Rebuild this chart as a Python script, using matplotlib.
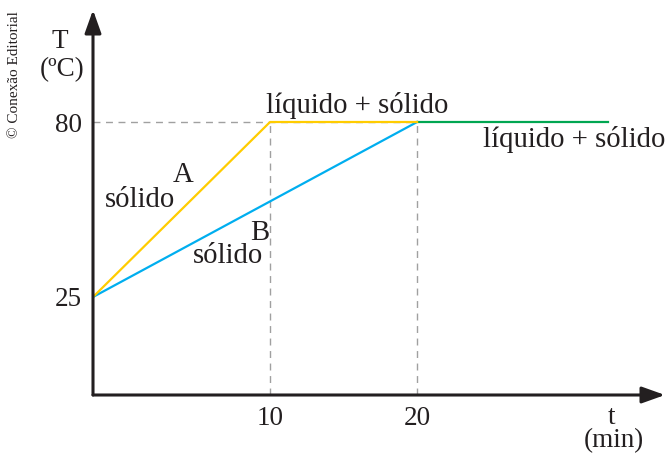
import numpy as np
import matplotlib
matplotlib.use('Agg')
import matplotlib.pyplot as plt
from matplotlib.patches import FancyArrowPatch

# Dados do grafico (tempo em min, temperatura em ºC)
tempoA = [0, 10, 20]
tempA = [25, 80, 80]
tempoB = [0, 20]
tempB = [25, 80]
tempoFinal = [20, 33]
tempFinal = [80, 80]
ticksX = [10, 20]
ticksY = [25, 80]

AMARELO = '#FFCC00'
AZUL = '#00AEEF'
VERDE = '#00A651'
CINZA = '#A0A0A0'
TEXTO = '#231F20'

plt.rcParams['font.family'] = ['Liberation Serif', 'DejaVu Serif']

W, H = 668, 455


# eixo x do desenho original nao e linear (esquema), entao uso uma escala por partes
def ida(x):
  x = np.asarray(x, dtype=float)
  return np.where(x <= 10, x, 10 + (x - 10) * 0.8305)


def volta(y):
  y = np.asarray(y, dtype=float)
  return np.where(y <= 10, y, 10 + (y - 10) / 0.8305)


def px(x, y):
  # converte pixel da imagem para fracao da figura
  return x / W, 1 - y / H


fig = plt.figure(figsize=(W / 100, H / 100), dpi=100)
ax = fig.add_axes([93 / W, 1 - 395 / H, (665 - 93) / W, (395 - 10) / H])
ax.set_xscale('function', functions=(ida, volta))
ax.set_xlim(0, 36.86)
ax.set_ylim(-5.8, 115.2)

# linhas tracejadas de referencia
ax.plot([0, 20], [80, 80], color=CINZA, lw=1, ls=(0, (5, 4)), zorder=1)
for t in ticksX:
  ax.plot([t, t], [-5.8, 80], color=CINZA, lw=1, ls=(0, (5, 4)), zorder=1)

# curvas
ax.plot(tempoB, tempB, color=AZUL, lw=1.6, zorder=3)
ax.plot(tempoA, tempA, color=AMARELO, lw=1.6, zorder=4)
ax.plot(tempoFinal, tempFinal, color=VERDE, lw=1.6, zorder=3)

for lado in ax.spines.values():
  lado.set_visible(False)

ax.set_xticks(ticksX)
ax.set_xticklabels([str(t) for t in ticksX])
ax.set_yticks(ticksY)
ax.set_yticklabels([str(t) for t in ticksY])
ax.tick_params(length=0, labelsize=19.5, colors=TEXTO, pad=8)
ax.xaxis.set_minor_locator(plt.NullLocator())

# eixos com setas
for fim in [(1.0, 0.0), (0.0, 1.0)]:
  seta = FancyArrowPatch((0, 0), fim, transform=ax.transAxes,
                         arrowstyle='-|>,head_length=0.7,head_width=0.25',
                         mutation_scale=20, color=TEXTO, lw=2.2,
                         shrinkA=0, shrinkB=0, clip_on=False, zorder=5)
  ax.add_patch(seta)

fs = 19.5
fr = 20.7
fig.text(*px(60, 42), 'T', fontsize=fs, color=TEXTO, ha='center', va='center')
fig.text(*px(62, 70), '(ºC)', fontsize=fs, color=TEXTO, ha='center', va='center')
fig.text(*px(612, 417), 't', fontsize=fs, color=TEXTO, ha='center', va='center')
fig.text(*px(614, 441), '(min)', fontsize=fs, color=TEXTO, ha='center', va='center')
fig.text(*px(357, 113), 'líquido + sólido', fontsize=fr, color=TEXTO, ha='center', va='baseline')
fig.text(*px(574, 147), 'líquido + sólido', fontsize=fr, color=TEXTO, ha='center', va='baseline')
fig.text(*px(183, 182), 'A', fontsize=fr, color=TEXTO, ha='center', va='baseline')
fig.text(*px(140, 207), 'sólido', fontsize=fr, color=TEXTO, ha='center', va='baseline')
fig.text(*px(260, 240), 'B', fontsize=fr, color=TEXTO, ha='center', va='baseline')
fig.text(*px(228, 263), 'sólido', fontsize=fr, color=TEXTO, ha='center', va='baseline')
fig.text(*px(15, 75), '© Conexão Editorial', fontsize=11, color=TEXTO,
         ha='center', va='center', rotation=90)

fig.savefig('out.png', dpi=100)
plt.close(fig)
